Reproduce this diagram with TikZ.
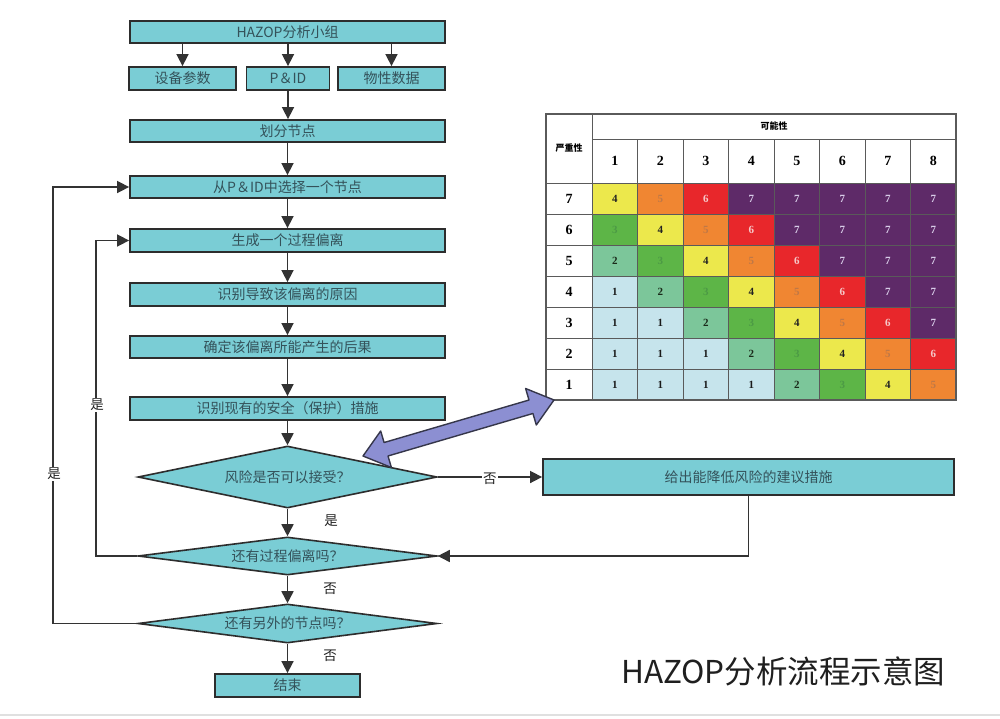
\documentclass[tikz,border=0pt]{standalone}
\usepackage{fontspec}
\setmainfont{Noto Sans CJK SC}
\newfontfamily\numfont{Liberation Serif}
\usetikzlibrary{arrows.meta,shapes.geometric,calc}
\definecolor{boxfill}{HTML}{7ACDD5}
\definecolor{boxline}{HTML}{2D2D2D}
\definecolor{boxtext}{HTML}{34525A}
\definecolor{lineclr}{HTML}{333333}
\definecolor{labclr}{HTML}{222222}
\definecolor{arrfill}{HTML}{8C8FD2}
\definecolor{arrline}{HTML}{35364A}
\definecolor{gridclr}{HTML}{5A5A5A}
\definecolor{rk1}{HTML}{C6E4EC}
\definecolor{rk2}{HTML}{7CC69A}
\definecolor{rk3}{HTML}{5DB547}
\definecolor{rk4}{HTML}{ECE84C}
\definecolor{rk5}{HTML}{F08632}
\definecolor{rk6}{HTML}{E8272B}
\definecolor{rk7}{HTML}{5E2A68}
\definecolor{rt1}{HTML}{1A1A1A}
\definecolor{rt2}{HTML}{1A2A1A}
\definecolor{rt3}{HTML}{4C9A45}
\definecolor{rt4}{HTML}{222222}
\definecolor{rt5}{HTML}{C07846}
\definecolor{rt6}{HTML}{F6C8C8}
\definecolor{rt7}{HTML}{D8CCE8}
\begin{document}
\begin{tikzpicture}[x=1pt,y=-1pt,
  box/.style={draw=boxline, line width=1.8pt, fill=boxfill, text=boxtext,
    font=\fontsize{14}{16}\selectfont, inner sep=0pt, minimum height=22pt},
  dia/.style={shape=diamond, aspect=8, draw=boxline, line width=1.6pt, fill=boxfill,
    text=boxtext, font=\fontsize{14}{16}\selectfont, inner sep=0pt, minimum width=299pt},
  arr/.style={draw=lineclr, line width=1.6pt, -{Triangle[length=12pt,width=12pt]}},
  lbl/.style={fill=white, inner sep=1.5pt, text=labclr, font=\fontsize{13.5}{15}\selectfont},
  cell/.style={draw=gridclr, line width=1pt, inner sep=0pt, minimum width=45.5pt,
    minimum height=31pt, font=\numfont\bfseries\fontsize{11}{12}\selectfont},
  hdr/.style={draw=gridclr, line width=1pt, fill=white, inner sep=0pt, text=black},
  hnum/.style={font=\numfont\bfseries\fontsize{14}{15}\selectfont},
  hcjk/.style={font=\bfseries\fontsize{9}{11}\selectfont}]
\useasboundingbox (0,0) rectangle (1000,718);
\fill[white] (0,0) rectangle (1000,718);
\draw[black!12, line width=2pt] (0,715) -- (1000,715);

% ---------- flow chart ----------
\node[box, minimum width=315pt] (hazop) at (287.5,32) {HAZOP分析小组};
\node[box, minimum width=107pt, minimum height=23pt] (equip) at (182.5,78.5) {设备参数};
\node[box, minimum width=83pt, minimum height=23pt] (pid) at (288,78.5) {P＆ID};
\node[box, minimum width=107pt, minimum height=23pt] (prop) at (391.5,78.5) {物性数据};
\node[box, minimum width=315pt] (divide) at (287.5,131) {划分节点};
\node[box, minimum width=315pt] (select) at (287.5,187) {从P＆ID中选择一个节点};
\node[box, minimum width=315pt, minimum height=23pt] (gen) at (287.5,240.5) {生成一个过程偏离};
\node[box, minimum width=315pt, minimum height=23pt] (cause) at (287.5,294.5) {识别导致该偏离的原因};
\node[box, minimum width=315pt] (conseq) at (287.5,347) {确定该偏离所能产生的后果};
\node[box, minimum width=315pt, minimum height=23pt] (safe) at (287.5,408.5) {识别现有的安全（保护）措施};
\node[dia, minimum height=62pt] (d1) at (287.5,477) {风险是否可以接受？};
\node[dia, minimum height=38pt] (d2) at (287.5,556) {还有过程偏离吗？};
\node[dia, minimum height=39pt] (d3) at (287.5,623.5) {还有另外的节点吗？};
\node[box, minimum width=145pt, minimum height=23pt] (end) at (287.5,685.5) {结束};
\node[box, minimum width=411pt, minimum height=36pt] (rec) at (748.5,477) {给出能降低风险的建议措施};

\coordinate (lo1) at (53,0);
\coordinate (lo2) at (96,0);

\draw[arr] (hazop.south -| equip.north) -- (equip.north);
\draw[arr] (hazop.south -| pid.north) -- (pid.north);
\draw[arr] (hazop.south -| prop.north) -- (prop.north);
\draw[arr] (pid.south) -- (pid.south |- divide.north);
\draw[arr] (divide) -- (select);
\draw[arr] (select) -- (gen);
\draw[arr] (gen) -- (cause);
\draw[arr] (cause) -- (conseq);
\draw[arr] (conseq) -- (safe);
\draw[arr] (safe) -- (d1);
\draw[arr] (d1) -- (d2);
\draw[arr] (d2) -- (d3);
\draw[arr] (d3) -- (end);
\draw[arr] (d1.east) -- node[lbl, pos=0.5, yshift=-2pt] {否} (rec.west);
\draw[arr] (rec.south) |- (d2.east);
\draw[arr] (d2.west) -- (d2.west -| lo2) |- (gen.west);
\draw[arr] (d3.west) -- (d3.west -| lo1) |- (select.west);
\node[lbl] (yes2) at (97,405) {是};
\node[lbl] (yes3) at (54,474) {是};
\node[lbl, fill=none] (yes1) at (331,521) {是};
\node[lbl, fill=none] (no2) at (330,589) {否};
\node[lbl, fill=none] (no3) at (330,656) {否};

% ---------- risk matrix ----------
\node[hdr, hcjk, minimum width=46pt, minimum height=69pt] (sev) at (569,148.5) {严重性};
\node[hdr, hcjk, minimum width=364pt, minimum height=25pt] (poss) at (774,126.5) {可能性};
\foreach \j in {1,...,8} {
  \node[hdr, hnum, minimum width=45.5pt, minimum height=44pt] (col\j) at ({592+45.5*(\j-0.5)},161) {\j};
}
\foreach \r/\vals [count=\i] in {7/{4,5,6,7,7,7,7,7},6/{3,4,5,6,7,7,7,7},5/{2,3,4,5,6,7,7,7},
    4/{1,2,3,4,5,6,7,7},3/{1,1,2,3,4,5,6,7},2/{1,1,1,2,3,4,5,6},1/{1,1,1,1,2,3,4,5}} {
  \node[hdr, hnum, minimum width=46pt, minimum height=31pt] (row\r) at (569,{183+31*(\i-0.5)}) {\r};
  \foreach \v [count=\j] in \vals {
    \node[cell, fill=rk\v, text=rt\v] (m\r-\j) at ({592+45.5*(\j-0.5)},{183+31*(\i-0.5)}) {\v};
  }
}
\draw[gridclr, line width=1.6pt] (546,114) rectangle (956,400);

% ---------- double arrow ----------
\draw[fill=arrfill, draw=arrline, line width=1.4pt, line join=round]
  (363,456) -- (391.39,467.49) -- (388.01,455.97) -- (532.93,413.47) -- (536.31,424.99)
  -- (554,400) -- (525.61,388.51) -- (528.99,400.03) -- (384.07,442.53) -- (380.69,431.01) -- cycle;

% ---------- title ----------
\node[anchor=west, inner sep=0pt, text=black!88, font=\fontsize{31.5}{36}\selectfont] (title) at (621,671) {HAZOP分析流程示意图};
\end{tikzpicture}
\end{document}
